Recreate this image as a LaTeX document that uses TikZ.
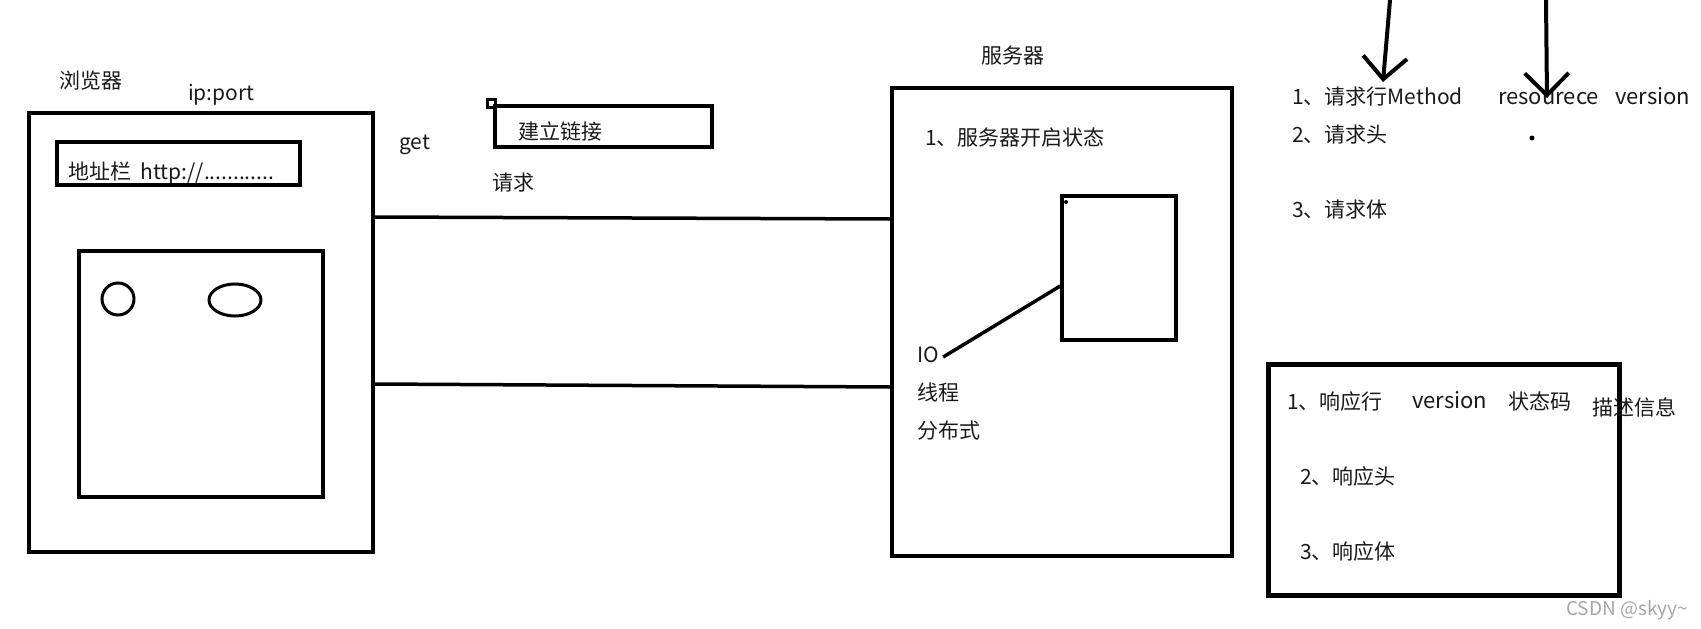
\documentclass[tikz,border=0pt]{standalone}
\usepackage{fontspec}
\setmainfont{Noto Sans CJK SC}
\usetikzlibrary{arrows.meta,shapes.geometric}
\tikzset{
  box/.style={draw,line width=4pt,inner sep=0pt},
  lbl/.style={font=\fontsize{21}{25}\selectfont,inner sep=0pt,anchor=west,text=black!90,
    text height=19pt,text depth=4pt},
  wire/.style={line width=3.5pt},
  arr/.style={line width=4pt,-{Straight Barb[length=22pt,width=44pt]}},
  dot/.style={circle,fill,inner sep=0pt,minimum size=5pt}
}
\begin{document}
\begin{tikzpicture}[x=1pt,y=-1pt]
\useasboundingbox (0,0) rectangle (1701,629);
% browser
\node[box,minimum width=344pt,minimum height=439pt] (browser) at (201,332.5) {};
\node[lbl] (brtitle) at (59,81) {浏览器};
\node[lbl] (ipport) at (188,93) {ip:port};
\node[lbl] (addrtext) at (68,172) {地址栏~~http://............};
\node[box,minimum width=243pt,minimum height=43pt] (addr) at (178.5,163.5) {};
\node[box,line width=3.5pt,minimum width=244pt,minimum height=246pt] (page) at (201,374) {};
\node[draw,circle,line width=3pt,minimum size=32pt,inner sep=0pt] (circ) at (118,299) {};
\node[draw,ellipse,line width=3pt,minimum width=52pt,minimum height=32pt,inner sep=0pt] (ell) at (235,300) {};
% request
\node[lbl] (get) at (399,142) {get};
\node[draw,line width=3pt,minimum size=8pt,inner sep=0pt] (corner) at (491,103) {};
\node[lbl] (conntext) at (518,132) {建立链接};
\node[box,minimum width=217pt,minimum height=41pt] (conn) at (603.5,126.5) {};
\node[lbl] (req) at (492,183) {请求};
% server
\node[box,minimum width=340pt,minimum height=468pt] (server) at (1062,322) {};
\node[lbl] (srvtitle) at (981,56) {服务器};
\node[lbl] (srvstate) at (925,138) {1、服务器开启状态};
\node[box,line width=3.5pt,minimum width=114pt,minimum height=144pt] (worker) at (1119,268) {};
\node[dot,minimum size=4pt] (wdot) at (1066,202) {};
\node[lbl] (io) at (917,355) {IO};
\node[lbl] (thread) at (917,393) {线程};
\node[lbl] (dist) at (917,431) {分布式};
\draw[wire] (browser.east |- 0,217) -- (server.west |- 0,219);
\draw[wire] (browser.east |- 0,384) -- (server.west |- 0,387);
\draw[wire] ([xshift=4pt,yshift=-2pt]io.east) -- (worker.west |- 0,286);
% request message
\coordinate (topa) at (1390,0);
\coordinate (topb) at (1546,0);
\node[lbl] (reqline) at (1292,97) {1、请求行Method};
\node[lbl,font=\fontsize{22}{26}\selectfont] (reqres) at (1498,97) {resourece};
\node[lbl,font=\fontsize{22}{26}\selectfont] (reqver) at (1615,97) {version};
\node[lbl] (reqhead) at (1292,135) {2、请求头};
\node[lbl] (reqbody) at (1292,210) {3、请求体};
\node[dot] (rdot) at (1532,138) {};
\draw[arr] (topa) -- (1383,82);
\draw[arr] (topb) -- (1547,98);
% response message
\node[box,line width=5pt,minimum width=351pt,minimum height=231pt] (resp) at (1443.5,479.5) {};
\node[lbl] (respline) at (1287,402) {1、响应行};
\node[lbl,font=\fontsize{22}{26}\selectfont] (respver) at (1412,401) {version};
\node[lbl] (respcode) at (1508,402) {状态码};
\node[lbl] (respdesc) at (1592,408) {描述信息};
\node[lbl] (resphead) at (1300,477) {2、响应头};
\node[lbl] (respbody) at (1300,552) {3、响应体};
\node[lbl,text=black!35,font=\fontsize{19}{23}\selectfont] (mark) at (1566,608) {CSDN @skyy\textasciitilde};
\end{tikzpicture}
\end{document}
